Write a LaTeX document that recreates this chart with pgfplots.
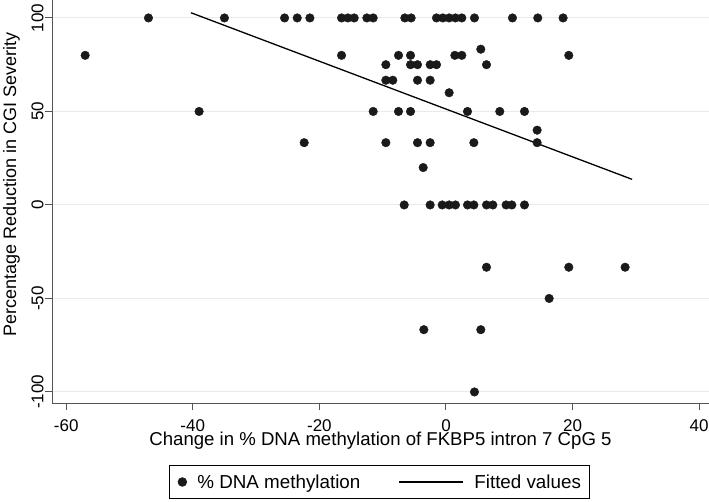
\documentclass[border=0pt]{standalone}
\usepackage{fontspec}
\setmainfont{Liberation Sans}
\usepackage{pgfplots}
\usepackage{pgfplotstable}
\pgfplotsset{compat=1.18}

\definecolor{axisgray}{RGB}{85,85,85}
\definecolor{gridgray}{RGB}{234,234,234}
\definecolor{dotcol}{RGB}{26,26,26}

\pgfplotsset{
  single dot legend/.style={legend image code/.code={\draw[##1] plot coordinates {(0bp,0bp)};}},
  long line legend/.style={legend image code/.code={\draw[##1] (0bp,0bp) -- (64bp,0bp);}},
}

% change in methylation vs. reduction in CGI severity
\pgfplotstableread{
x y
-57.0 80
-47.0 100
-39.0 50
-35.0 100
-25.5 100
-23.5 100
-21.5 100
-16.5 100
-15.5 100
-14.5 100
-12.5 100
-11.5 100
-6.5 100
-5.5 100
-1.5 100
-0.5 100
0.5 100
1.5 100
2.5 100
4.5 100
10.5 100
14.5 100
18.5 100
5.5 83.3
-16.5 80
-7.5 80
-5.6 80
1.4 80
2.5 80
19.4 80
-9.5 75
-5.6 75
-4.5 75
-2.5 75
-1.5 75
6.4 75
-9.5 66.7
-8.4 66.7
-4.5 66.7
-2.5 66.7
0.5 60
-11.5 50
-7.5 50
-5.6 50
3.4 50
8.5 50
12.4 50
14.4 40
-22.4 33.3
-9.5 33.3
-4.5 33.3
-2.5 33.3
4.4 33.3
14.4 33.3
-3.6 20
-6.6 0
-2.5 0
-0.6 0
0.5 0
1.5 0
3.4 0
4.4 0
6.4 0
7.4 0
9.5 0
10.4 0
12.4 0
6.4 -33.3
19.4 -33.3
28.3 -33.3
16.3 -50
-3.5 -66.7
5.5 -66.7
4.5 -100
}\methyl

\pgfplotstableread{
x y
-40.3 102.8
29.4 13.7
}\fitted

\begin{document}
\begin{tikzpicture}
\useasboundingbox (0bp,0bp) rectangle (709bp,502bp);
\begin{axis}[
  at={(52bp,99bp)}, anchor=south west,
  scale only axis, width=657bp, height=403bp,
  xmin=-62.24, xmax=41.55, ymin=-105.9, ymax=109.6,
  axis lines*=left,
  axis line style={-, axisgray, line width=1bp},
  xtick={-60,-40,...,40}, ytick={-100,-50,...,100},
  tick align=outside, major tick length=7bp,
  tick style={axisgray, line width=1bp},
  ymajorgrids, grid style={gridgray, line width=1bp},
  /pgf/number format/assume math mode=true,
  ticklabel style={font=\fontsize{17bp}{19bp}\selectfont},
  xticklabel style={anchor=north, inner sep=0pt, yshift=-9.2bp},
  yticklabel style={rotate=90, anchor=base, inner sep=0pt, yshift=1.7bp},
  xlabel={Change in \% DNA methylation of FKBP5 intron 7 CpG 5},
  xlabel style={font=\fontsize{18.6bp}{20bp}\selectfont,
    at={(axis description cs:0.5,0)}, anchor=base, yshift=-42.5bp},
  ylabel={Percentage Reduction in CGI Severity},
  ylabel style={font=\fontsize{18bp}{20bp}\selectfont,
    at={(axis description cs:0,0.543)}, anchor=base, yshift=36bp},
  legend columns=2,
  legend style={at={(axis description cs:0.4985,-0.196)}, anchor=center,
    draw=black, line width=0.8bp, inner xsep=8.7bp, inner ysep=9bp,
    font=\fontsize{18.8bp}{20bp}\selectfont,
    nodes={inner sep=0pt},
    /tikz/every odd column/.append style={column sep=10.7bp},
    /tikz/column 2/.append style={column sep=38bp}},
]
\addplot[only marks, mark=*, mark size=4.3bp, color=dotcol, single dot legend]
  table[x=x, y=y] {\methyl};
\addlegendentry{\% DNA methylation}
\addplot[black, line width=1.3bp, no marks, long line legend]
  table[x=x, y=y] {\fitted};
\addlegendentry{Fitted values}
\end{axis}
\end{tikzpicture}
\end{document}
